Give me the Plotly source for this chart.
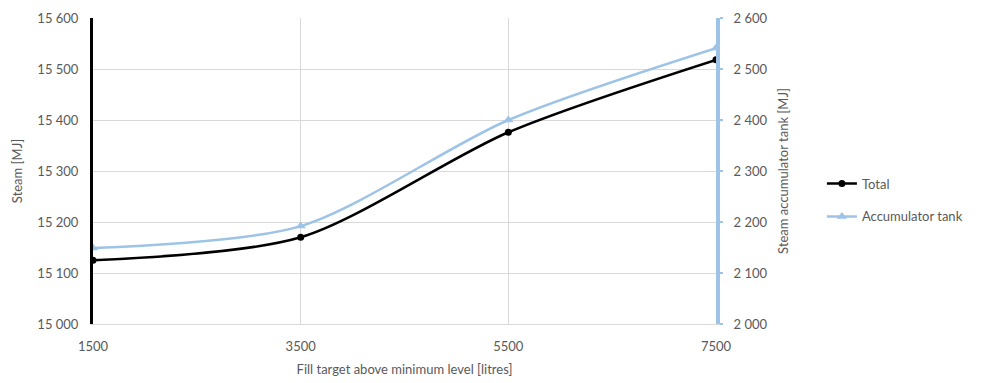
import plotly.graph_objects as go

# Fill target above minimum level [litres]
fill_target = [1500, 3500, 5500, 7500]
# Total steam energy [MJ] (left axis)
total_mj = [15125, 15170, 15376, 15518]
# Steam accumulator tank energy [MJ] (right axis)
tank_mj = [2149, 2192, 2400, 2541]

left_ticks = [15000, 15100, 15200, 15300, 15400, 15500, 15600]
right_ticks = [2000, 2100, 2200, 2300, 2400, 2500, 2600]

FONT = "Lato, 'Open Sans', sans-serif"
GREY = "#595959"
BLUE = "#9DC3E6"
FS = 13

fig = go.Figure()
fig.add_trace(go.Scatter(
    x=fill_target, y=total_mj, name="Total", mode="lines+markers",
    line=dict(color="black", width=2.5, shape="spline", smoothing=0.8),
    marker=dict(symbol="circle", size=7, color="black"),
    yaxis="y", legendgroup="total",
))
fig.add_trace(go.Scatter(
    x=fill_target, y=tank_mj, name="Accumulator tank", mode="lines+markers",
    line=dict(color=BLUE, width=2.5, shape="spline", smoothing=0.8),
    marker=dict(symbol="triangle-up", size=9, color=BLUE),
    yaxis="y2", legendgroup="tank",
))

fig.update_layout(
    width=981, height=383,
    margin=dict(l=93, r=265, t=18, b=59),
    paper_bgcolor="white", plot_bgcolor="white",
    separators=". ",
    font=dict(family=FONT, size=FS, color=GREY),
    xaxis=dict(
        range=[1500, 7500], tickvals=fill_target, automargin=False,
        showgrid=True, gridcolor="#D9D9D9", gridwidth=1,
        showline=True, linecolor="#D9D9D9", linewidth=1,
        zeroline=False, ticks="", tickfont=dict(size=FS, color=GREY),
        ticklabelstandoff=10,
        title=dict(text="Fill target above minimum level [litres]",
                   font=dict(size=FS, color=GREY), standoff=12),
    ),
    yaxis=dict(
        range=[15000, 15600], tickvals=left_ticks, exponentformat="none",
        separatethousands=True, automargin=False,
        showgrid=True, gridcolor="#D9D9D9", gridwidth=1,
        showline=True, linecolor="black", linewidth=3,
        zeroline=False, ticks="", tickfont=dict(size=FS, color=GREY),
        ticklabelstandoff=9,
        title=dict(text="Steam [MJ]", font=dict(size=FS, color=GREY), standoff=12),
    ),
    yaxis2=dict(
        range=[2000, 2600], tickvals=right_ticks, exponentformat="none",
        separatethousands=True, automargin=False,
        overlaying="y", side="right",
        showgrid=False, showline=True, linecolor=BLUE, linewidth=4,
        zeroline=False, ticks="outside", ticklen=3, tickwidth=2, tickcolor=BLUE,
        tickfont=dict(size=FS, color=GREY), ticklabelstandoff=8,
        title=dict(text="Steam accumulator tank [MJ]", font=dict(size=FS, color=GREY),
                   standoff=13),
    ),
    legend=dict(
        x=1.17, y=0.405, xanchor="left", yanchor="middle",
        font=dict(size=FS, color=GREY), itemwidth=30,
        tracegroupgap=13, bgcolor="rgba(0,0,0,0)",
    ),
    showlegend=True,
)

fig.write_html("out.html")
